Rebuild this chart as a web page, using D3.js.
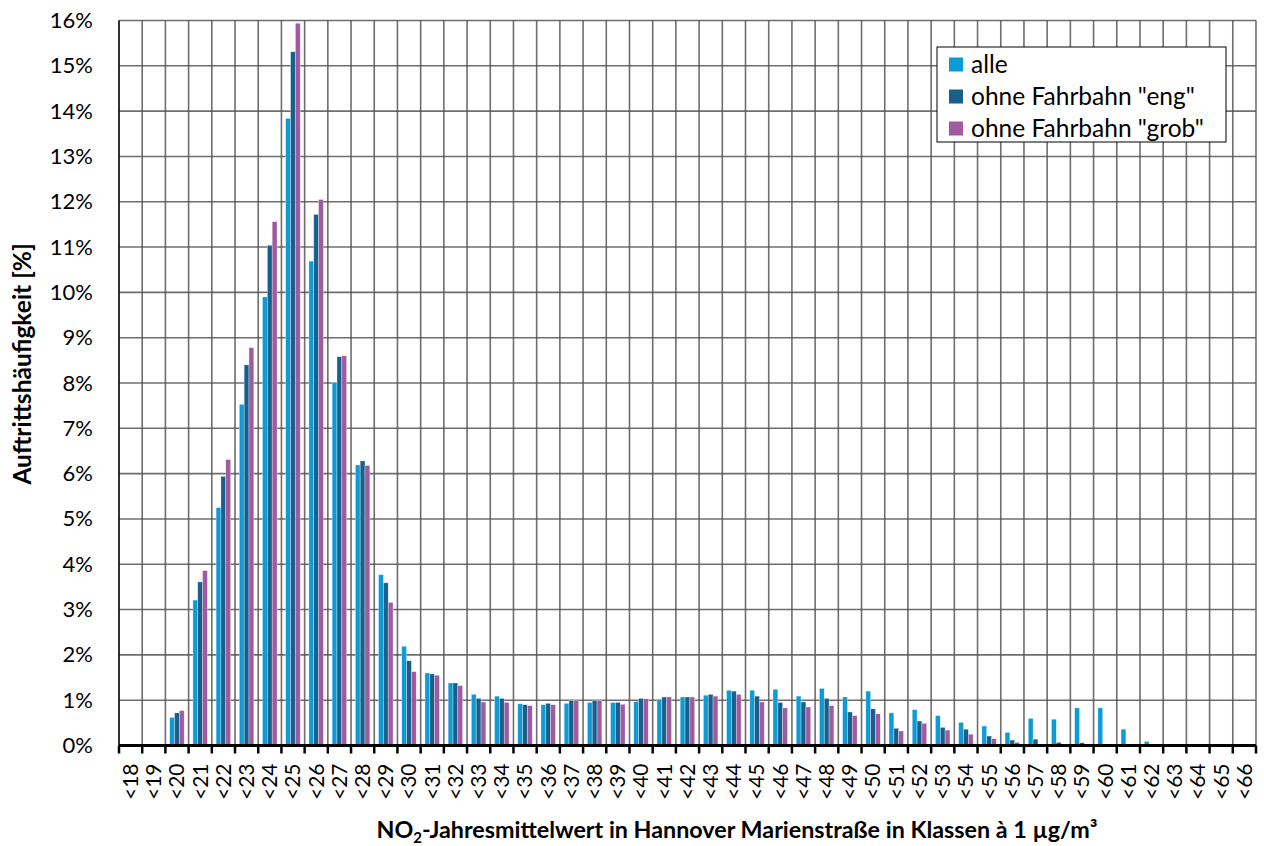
<!DOCTYPE html>
<html><head><meta charset="utf-8">
<script src="https://cdn.jsdelivr.net/npm/d3@7"></script>
<style>
html,body{margin:0;padding:0;background:#fff;}
svg{display:block;}
</style></head>
<body>
<svg id="chart" width="1264" height="846"></svg>
<script>
const categories = ["<18","<19","<20","<21","<22","<23","<24","<25","<26","<27","<28","<29","<30","<31","<32","<33","<34","<35","<36","<37","<38","<39","<40","<41","<42","<43","<44","<45","<46","<47","<48","<49","<50","<51","<52","<53","<54","<55","<56","<57","<58","<59","<60","<61","<62","<63","<64","<65","<66"];
const seriesNames = ["alle", "ohne Fahrbahn \"eng\"", "ohne Fahrbahn \"grob\""];
const alle = [0,0.02,0.62,3.21,5.25,7.53,9.90,13.84,10.69,8.01,6.19,3.77,2.19,1.60,1.38,1.13,1.09,0.92,0.90,0.93,0.95,0.95,0.97,1.02,1.07,1.11,1.22,1.22,1.24,1.09,1.26,1.07,1.20,0.72,0.79,0.66,0.51,0.43,0.29,0.60,0.58,0.83,0.83,0.36,0.09,0.02,0,0.02,0];
const eng  = [0,0.02,0.72,3.61,5.94,8.40,11.04,15.31,11.72,8.58,6.28,3.59,1.87,1.58,1.38,1.04,1.04,0.90,0.93,0.99,0.99,0.95,1.04,1.07,1.07,1.13,1.20,1.09,0.95,0.96,1.04,0.74,0.81,0.38,0.54,0.40,0.36,0.21,0.12,0.14,0.07,0.06,0.01,0,0,0,0,0,0];
const grob = [0,0.02,0.77,3.86,6.31,8.78,11.56,15.94,12.05,8.60,6.18,3.16,1.63,1.55,1.32,0.96,0.95,0.88,0.90,0.99,0.99,0.91,1.03,1.07,1.07,1.09,1.13,0.96,0.83,0.85,0.88,0.66,0.70,0.32,0.49,0.34,0.25,0.15,0.07,0.03,0.01,0.01,0,0,0,0,0,0,0];
const yTicks = [0,1,2,3,4,5,6,7,8,9,10,11,12,13,14,15,16];
const colors = ["#0c9bd6", "#185f8b", "#a05aa0"];

const series = [alle, eng, grob];
const svg = d3.select("#chart");
const m = {left:119, right:1256, top:20.5, bottom:745.5};
const FONT = "Lato, 'Open Sans', sans-serif";

const x = d3.scaleBand().domain(categories).range([m.left, m.right]).padding(0);
const bw = x.bandwidth();
const x1 = d3.scaleBand().domain(seriesNames).range([bw*0.185, bw*0.81]).padding(0);
const y = d3.scaleLinear().domain([0,16]).range([m.bottom, m.top]);

// gridlines
const grid = svg.append("g");
grid.selectAll("line.h").data(yTicks).join("line")
  .attr("x1", m.left).attr("x2", m.right)
  .attr("y1", d=>y(d)).attr("y2", d=>y(d))
  .attr("stroke", "#555").attr("stroke-width", 1.6).attr("stroke-opacity",0.85);
const bounds = categories.map(c=>x(c)).concat([m.right]);
grid.selectAll("line.v").data(bounds).join("line")
  .attr("x1", d=>d).attr("x2", d=>d)
  .attr("y1", m.top).attr("y2", m.bottom)
  .attr("stroke", "#555").attr("stroke-width", 1.6).attr("stroke-opacity",0.85);

// bars
const gBars = svg.append("g");
series.forEach((vals, si) => {
  gBars.append("g").selectAll("rect").data(vals.map((v,i)=>({c:categories[i], v}))).join("rect")
    .attr("x", d => x(d.c) + x1(seriesNames[si]))
    .attr("width", x1.bandwidth())
    .attr("y", d => y(d.v))
    .attr("height", d => m.bottom - y(d.v))
    .attr("fill", colors[si])
    .attr("stroke", "rgba(255,255,255,0.55)")
    .attr("stroke-width", 0.6);
});

// left axis line
svg.append("line").attr("x1", m.left).attr("x2", m.left).attr("y1", m.top).attr("y2", m.bottom)
  .attr("stroke", "#000").attr("stroke-width", 1.3);

// y axis labels
const yAxis = d3.axisLeft(y).tickValues(yTicks).tickFormat(d => d + "%").tickSize(0).tickPadding(26);
const ya = svg.append("g").attr("transform", `translate(${m.left},0)`).call(yAxis);
ya.select(".domain").remove();
ya.selectAll("text").attr("font-family", FONT).attr("font-size", 22).attr("fill", "#000");

// x axis
const xAxis = d3.axisBottom(x).tickSize(0).tickPadding(0);
const xa = svg.append("g").attr("transform", `translate(0,${m.bottom})`).call(xAxis);
xa.select(".domain").remove();
xa.selectAll("text")
  .attr("font-family", FONT).attr("font-size", 21).attr("fill", "#000")
  .attr("transform", "rotate(-90)")
  .attr("text-anchor", "end")
  .attr("dy", "0.35em")
  .attr("x", -18).attr("y", 0);
// tick marks at boundaries
svg.append("g").selectAll("line").data(bounds).join("line")
  .attr("x1", d=>d).attr("x2", d=>d).attr("y1", m.bottom).attr("y2", m.bottom+8)
  .attr("stroke", "#000").attr("stroke-width", 2.5);
svg.append("line").attr("x1", m.left).attr("x2", m.right).attr("y1", m.bottom).attr("y2", m.bottom)
  .attr("stroke", "#000").attr("stroke-width", 3);

// axis titles
svg.append("text")
  .attr("transform", `translate(31,364) rotate(-90)`)
  .attr("text-anchor", "middle")
  .attr("font-family", FONT).attr("font-weight", "bold").attr("font-size", 24.5)
  .text("Auftrittshäufigkeit [%]");

const xt = svg.append("text")
  .attr("x", 737).attr("y", 838)
  .attr("text-anchor", "middle")
  .attr("font-family", FONT).attr("font-weight", "bold").attr("font-size", 23.3);
xt.append("tspan").text("NO");
xt.append("tspan").attr("font-size", 15).attr("dy", 5).text("2");
xt.append("tspan").attr("dy", -5).text("-Jahresmittelwert in Hannover Marienstraße in Klassen à 1 µg/m³");

// legend
const lg = svg.append("g").attr("transform", "translate(937,47)");
lg.append("rect").attr("width", 289).attr("height", 95).attr("fill", "#fff").attr("stroke", "#000").attr("stroke-width", 1);
seriesNames.forEach((n, i) => {
  const row = lg.append("g").attr("transform", `translate(0,${17.5 + i*32})`);
  row.append("rect").attr("x", 12).attr("y", -7).attr("width", 14).attr("height", 14).attr("fill", colors[i]);
  row.append("text").attr("x", 34).attr("y", 0).attr("dy", "0.35em")
    .attr("font-family", FONT).attr("font-size", 24.5).attr("fill", "#000").text(n);
});
</script>
</body></html>
